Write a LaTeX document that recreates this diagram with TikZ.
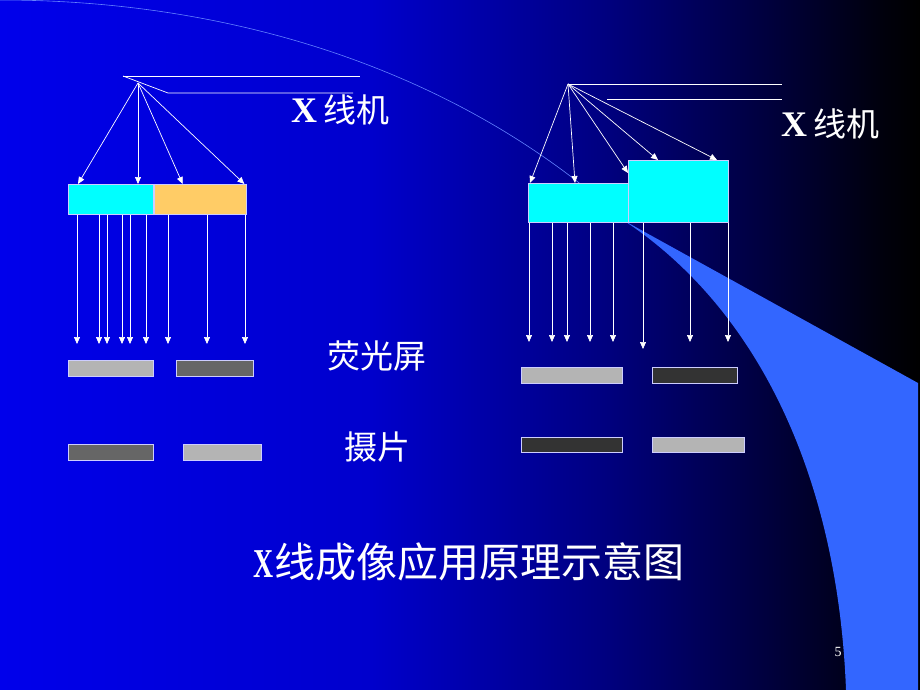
\documentclass[tikz,border=0pt]{standalone}
\usepackage{fontspec}
\setmainfont{Liberation Serif}
\newfontfamily\cjk{Noto Sans CJK SC}
\usepackage{xcolor}
\usepackage{graphicx}
\usepackage{tikz}
\usetikzlibrary{arrows.meta, positioning}

\definecolor{bgleft}{RGB}{0,0,235}
\definecolor{bgmidA}{RGB}{0,0,205}
\definecolor{bgmidB}{RGB}{0,0,130}
\definecolor{bgdark}{RGB}{0,0,55}
\definecolor{bgblack}{RGB}{0,0,12}
\definecolor{bandblue}{RGB}{51,102,255}
\definecolor{arcblue}{RGB}{100,130,255}
\definecolor{boxcyan}{RGB}{0,255,255}
\definecolor{boxorange}{RGB}{255,204,102}
\definecolor{greylight}{RGB}{180,180,180}
\definecolor{greymid}{RGB}{102,102,102}
\definecolor{greydark}{RGB}{51,51,51}
\definecolor{edgeblue}{RGB}{205,205,255}

\pgfdeclarehorizontalshading{slidebg}{100bp}{color(0bp)=(bgleft); color(25bp)=(bgleft); color(45bp)=(bgmidA); color(57.5bp)=(bgmidB); color(67.5bp)=(bgdark); color(73bp)=(bgblack); color(75bp)=(black); color(100bp)=(black)}

\newcommand{\xmark}{{\rmfamily\bfseries\fontsize{36}{38}\selectfont X}}

\tikzstyle{bar} = [rectangle, draw=edgeblue, line width=0.7pt, inner sep=0pt, anchor=north west]
\tikzstyle{wire} = [draw=white, line width=0.7pt]
\tikzstyle{ray} = [draw=white, line width=0.7pt, -{Triangle[width=6pt,length=7pt]}]
\tikzstyle{label} = [text=white, inner sep=0pt, font=\fontsize{33}{36}\selectfont\cjk]

\begin{document}
\begin{tikzpicture}[x=1pt, y=-1pt]

		\useasboundingbox (0,0) rectangle (920,690);
		\shade [shading=slidebg] (0,0) rectangle (920,690);
		% template swoosh
		\draw [arcblue, line width=0.6pt] (0,0) .. controls (250,0) and (470,80) .. (623,220);
		\fill [bandblue] (623,220) -- (918,383) -- (918,690) -- (846,690) .. controls (838,480) and (760,310) .. (623,220);

		% left: two materials
		\node (cyanL) [bar, fill=boxcyan, minimum width=85pt, minimum height=30pt] at (68,184) {};
		\node (orangeL) [bar, fill=boxorange, minimum width=92pt, minimum height=30pt, right=0pt of cyanL] {};
		\node (scrL1) [bar, fill=greylight, minimum width=85pt, minimum height=16pt] at (68,360) {};
		\node (scrL2) [bar, fill=greymid, minimum width=77pt, minimum height=16pt] at (176,360) {};
		\node (filmL1) [bar, fill=greymid, minimum width=85pt, minimum height=16pt] at (68,444) {};
		\node (filmL2) [bar, fill=greylight, minimum width=78pt, minimum height=16pt] at (183,444) {};

		\coordinate (tubeL) at (138,83);
		\coordinate (tubeLa) at (123,76);
		\coordinate (tubeLb) at (360,76);
		\coordinate (tubeLc) at (168,93);
		\coordinate (tubeLd) at (353,93);
		\coordinate (endL) at (0,344);
		\draw [wire] (tubeLa) -- (tubeLb);
		\draw [wire] (tubeLa) -- (tubeLc) -- (tubeLd);

		\draw [ray] (tubeL) -- ([xshift=10pt]cyanL.north west);
		\draw [ray] (tubeL) -- ([xshift=70pt]cyanL.north west);
		\draw [ray] (tubeL) -- ([xshift=29pt]orangeL.north west);
		\draw [ray] (tubeL) -- ([xshift=-2pt]orangeL.north east);
		\foreach \x in {77,99,107,122,130,146,168,207,245}
			\draw [ray] (\x,0 |- cyanL.south) -- (\x,0 |- endL);

		% right: two thicknesses
		\node (boxR1) [bar, fill=boxcyan, minimum width=100pt, minimum height=39pt] at (528,183) {};
		\node (boxR2) [bar, fill=boxcyan, minimum width=100pt, minimum height=62pt] at (628,160) {};
		\node (scrR1) [bar, fill=greylight, minimum width=101pt, minimum height=16pt] at (521,367) {};
		\node (scrR2) [bar, fill=greydark, minimum width=85pt, minimum height=16pt] at (652,367) {};
		\node (filmR1) [bar, fill=greydark, minimum width=101pt, minimum height=15pt] at (521,437) {};
		\node (filmR2) [bar, fill=greylight, minimum width=92pt, minimum height=15pt] at (652,437) {};

		\coordinate (tubeR) at (568,84);
		\coordinate (tubeRb) at (782,84);
		\coordinate (tubeRc) at (607,99);
		\coordinate (tubeRd) at (782,99);
		\coordinate (endR) at (0,342);
		\coordinate (endRlow) at (0,349);
		\draw [wire] (tubeR) -- (tubeRb);
		\draw [wire] (tubeRc) -- (tubeRd);

		\draw [ray] (tubeR) -- ([xshift=2pt]boxR1.north west);
		\draw [ray] (tubeR) -- ([xshift=47pt]boxR1.north west);
		\draw [ray] (tubeR) -- ([yshift=-13pt]boxR2.north west);
		\draw [ray] (tubeR) -- ([xshift=30pt]boxR2.north west);
		\draw [ray] (tubeR) -- ([xshift=89pt]boxR2.north west);
		\foreach \x in {529,552,567,590,613,690,728}
			\draw [ray] (\x,0 |- boxR1.south) -- (\x,0 |- endR);
		\draw [ray] (643,0 |- boxR1.south) -- (643,0 |- endRlow);

		% texts
		\node (tubeLlbl) [label] at (340,110) {\xmark\hspace{6pt}线机};
		\node (tubeRlbl) [label] at (830,124) {\xmark\hspace{6pt}线机};
		\node (scrlbl) [label] at (377,356) {荧光屏};
		\node (filmlbl) [label, below=60pt of scrlbl] {摄片};
		\node (title) [label, font=\fontsize{41}{44}\selectfont\cjk] at (469,562) {{\rmfamily\bfseries\scalebox{0.68}[1]{X}}线成像应用原理示意图};
		\node (pagenum) [text=white, font=\fontsize{14}{16}\selectfont] at (838,652) {5};

	\end{tikzpicture}
\end{document}
